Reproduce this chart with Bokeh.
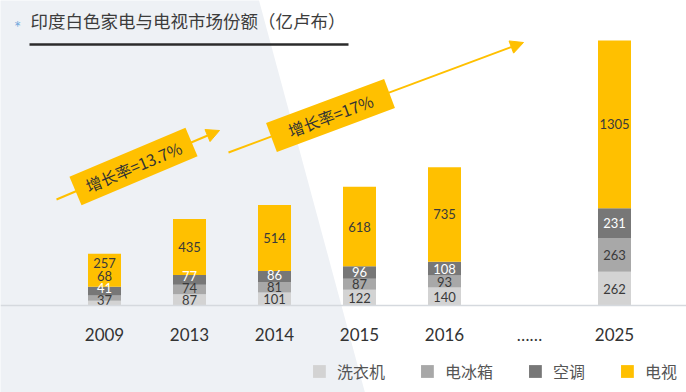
import math
from bokeh.plotting import figure
from bokeh.models import (ColumnDataSource, Range1d, LinearAxis, FixedTicker, Label,
                          Arrow, NormalHead, PolyAnnotation)
from bokeh.core.properties import value
from bokeh.embed import file_html
from bokeh.resources import INLINE

# ---------------- data ----------------
tick_labels = ["2009", "2013", "2014", "2015", "2016", "……", "2025"]
years = ["2009", "2013", "2014", "2015", "2016", "2025"]
washer = [37, 87, 101, 122, 140, 262]
fridge = [41, 74, 81, 87, 93, 263]
aircon = [68, 77, 86, 96, 108, 231]
tv = [257, 435, 514, 618, 735, 1305]
series_names = ["洗衣机", "电冰箱", "空调", "电视"]
growth_labels = ["增长率=13.7%", "增长率=17%"]
title_text = "印度白色家电与电视市场份额（亿卢布）"

# ---------------- style ----------------
YEL = "#ffc000"
series_colors = ["#d3d3d3", "#a8a8a8", "#777777", YEL]
label_colors = ["#3a3a3a", "#3a3a3a", "#ffffff", "#3a3a3a"]
CJK = "Noto Sans CJK SC"
NUM = "Lato"

W, H = 686, 392
BASE_PX = 305        # baseline, px from top
STEP_PX = 85         # px per category
FIRST_PX = 104       # px of first category
UNITS_PER_PX = 7.78

x_start = -FIRST_PX / STEP_PX
x_end = x_start + W / STEP_PX
y_end = BASE_PX * UNITS_PER_PX
y_start = -(H - BASE_PX) * UNITS_PER_PX


def X(px):  # px -> data x
    return x_start + px / STEP_PX


def Y(py):  # px from top -> data y
    return (BASE_PX - py) * UNITS_PER_PX


p = figure(width=W, height=H, x_range=Range1d(x_start, x_end), y_range=Range1d(y_start, y_end),
           output_backend="svg", toolbar_location=None, x_axis_location=None,
           y_axis_location=None, min_border=0, outline_line_color=None,
           background_fill_color="white", border_fill_color="white")
for g in p.grid:
    g.visible = False

# background diagonal panel
p.add_layout(PolyAnnotation(xs=[X(-2), X(258), X(365), X(-2)], ys=[Y(-2), Y(-2), Y(394), Y(394)],
                            xs_units="data", ys_units="data",
                            fill_color="#eef1f5", fill_alpha=1.0, line_color=None,
                            level="underlay"))

# growth arrows
arrows = [((56, 199), (219, 130)), ((228, 152), (523, 42))]
for (sx, sy), (ex, ey) in arrows:
    p.add_layout(Arrow(end=NormalHead(size=13, fill_color=YEL, line_color=YEL),
                       x_start=X(sx), y_start=Y(sy), x_end=X(ex), y_end=Y(ey),
                       line_color=YEL, line_width=2, level="underlay"))

box_centers = [(133, 166), (330, 115)]
angles = [math.atan2(sy - ey, ex - sx) for (sx, sy), (ex, ey) in arrows]
p.rect(x=[X(c[0]) for c in box_centers], y=[Y(c[1]) for c in box_centers],
       width=126, height=31, width_units="screen", height_units="screen",
       angle=angles, fill_color=YEL, line_color=None)
p.text(x=[X(c[0]) for c in box_centers], y=[Y(c[1]) for c in box_centers],
       text=growth_labels, angle=angles, text_font=value(CJK), text_font_size="16px",
       text_align="center", text_baseline="middle", text_color="#333333")

# bars
xpos = [tick_labels.index(y) for y in years]
src = ColumnDataSource(dict(x=xpos, washer=washer, fridge=fridge, aircon=aircon, tv=tv))
p.vbar_stack(["washer", "fridge", "aircon", "tv"], x="x", width=33 / STEP_PX, source=src,
             fill_color=series_colors, line_color=None, legend_label=series_names)

# value labels (spread apart so they do not overlap)
stacks = [washer, fridge, aircon, tv]
lx, ly, lt, lc = [], [], [], []
MIN_GAP = 12
for j, yr in enumerate(years):
    cum = 0
    prev = None
    bounds = []
    for s in stacks:
        bounds.append((cum, cum + s[j]))
        cum += s[j]
    for k, s in enumerate(stacks):
        lo, hi = bounds[k]
        c = (lo + hi) / 2 / UNITS_PER_PX
        gap = MIN_GAP + (1 if k == len(stacks) - 1 else 0)
        pos = max(c, 6) if prev is None else max(c, prev + gap)
        prev = pos
        val = pos * UNITS_PER_PX
        seg = next((i for i, (a, b) in enumerate(bounds) if a <= val < b), k)
        lx.append(xpos[j])
        ly.append(val)
        lt.append(str(s[j]))
        lc.append(label_colors[seg])
p.text(x=lx, y=ly, text=lt, text_color=lc, text_font=value(NUM), text_font_size="13px",
       text_align="center", text_baseline="middle")

# x axis at baseline
xaxis = LinearAxis(fixed_location=0, ticker=FixedTicker(ticks=list(range(len(tick_labels)))),
                   major_label_overrides={i: t for i, t in enumerate(tick_labels)})
xaxis.axis_line_color = "#d5d9de"
xaxis.axis_line_width = 1.5
xaxis.major_tick_line_color = None
xaxis.minor_tick_line_color = None
xaxis.major_label_standoff = 12
xaxis.major_label_text_font = NUM
xaxis.major_label_text_font_size = "17px"
xaxis.major_label_text_color = "#333333"
p.add_layout(xaxis, "below")

# title
p.add_layout(Label(x=X(17), y=Y(27), text="*", text_font=NUM, text_font_size="17px",
                   text_color="#6fa8dc", text_baseline="middle", text_align="center"))
p.add_layout(Label(x=X(30), y=Y(20), text=title_text, text_font=CJK, text_font_size="17.5px",
                   text_color="#3c3c3c", text_baseline="middle", text_align="left"))
p.line(x=[X(29), X(348)], y=[Y(44), Y(44)], line_width=2.5, line_color="#2b2b2b")

# legend
lg = p.legend[0]
lg.orientation = "horizontal"
lg.location = "bottom_right"
lg.padding = 0
lg.margin = 9
lg.spacing = 34
lg.glyph_width = 16
lg.glyph_height = 16
lg.label_standoff = 10
lg.label_text_font = CJK
lg.label_text_font_size = "16px"
lg.label_text_color = "#555555"
lg.background_fill_alpha = 0
lg.border_line_color = None

open("out.html", "w").write(file_html(p, INLINE))
